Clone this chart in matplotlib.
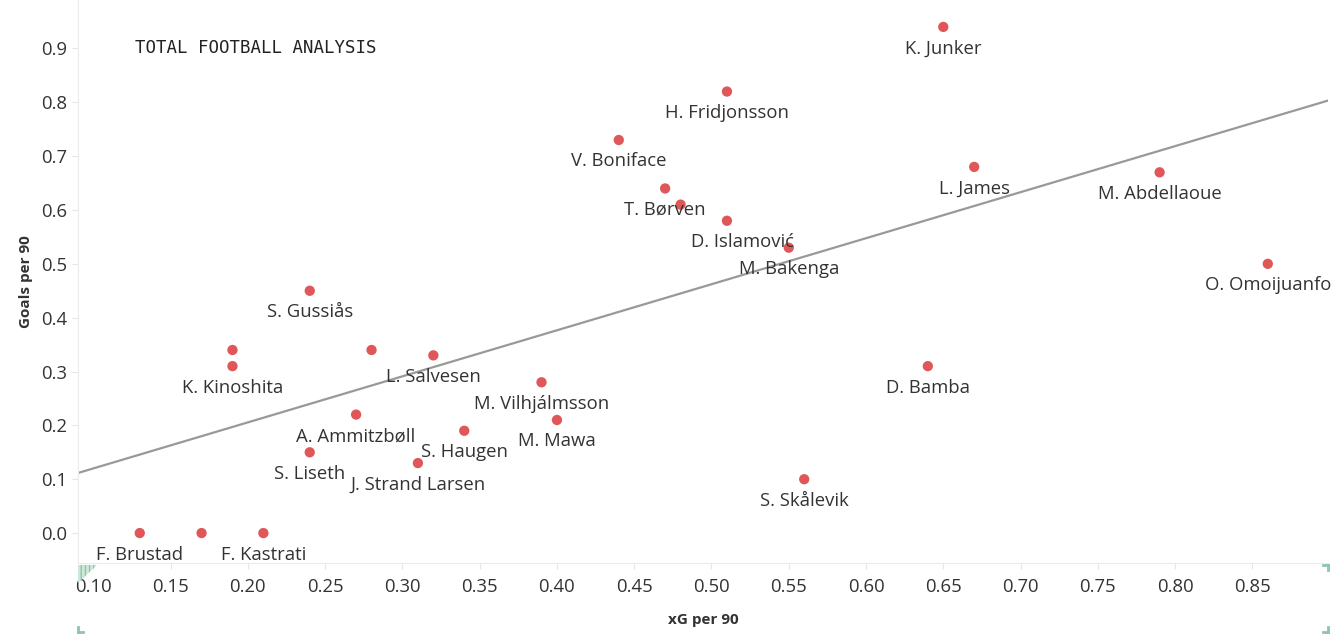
import numpy as np
import matplotlib.pyplot as plt
from matplotlib.patches import Polygon

# xG per 90 vs goals per 90 (Eliteserien strikers)
xg = [0.65, 0.51, 0.44, 0.47, 0.48, 0.51, 0.55, 0.67, 0.79, 0.86,
      0.24, 0.19, 0.19, 0.28, 0.32, 0.39, 0.27, 0.34, 0.40, 0.24,
      0.31, 0.56, 0.64, 0.13, 0.17, 0.21]
goals = [0.94, 0.82, 0.73, 0.64, 0.61, 0.58, 0.53, 0.68, 0.67, 0.50,
         0.45, 0.34, 0.31, 0.34, 0.33, 0.28, 0.22, 0.19, 0.21, 0.15,
         0.13, 0.10, 0.31, 0.00, 0.00, 0.00]
names = ['K. Junker', 'H. Fridjonsson', 'V. Boniface', 'T. Børven', '',
         'D. Islamović', 'M. Bakenga', 'L. James', 'M. Abdellaoue', 'O. Omoijuanfo',
         'S. Gussiås', '', 'K. Kinoshita', '', 'L. Salvesen',
         'M. Vilhjálmsson', 'A. Ammitzbøll', 'S. Haugen', 'M. Mawa', 'S. Liseth',
         'J. Strand Larsen', 'S. Skålevik', 'D. Bamba', 'F. Brustad', '', 'F. Kastrati']
# horizontal label nudges (points) where the label is not centred on its dot
label_dx = {'D. Islamović': 11}

# linear trend line
trend_intercept = 0.0346
trend_slope = 0.855

xticks = [0.10, 0.15, 0.20, 0.25, 0.30, 0.35, 0.40, 0.45, 0.50, 0.55,
          0.60, 0.65, 0.70, 0.75, 0.80, 0.85]
yticks = [0.0, 0.1, 0.2, 0.3, 0.4, 0.5, 0.6, 0.7, 0.8, 0.9]

plt.rcParams['font.family'] = ['Open Sans', 'DejaVu Sans']

fig = plt.figure(figsize=(13.37, 6.35), dpi=100)
ax = fig.add_axes([0.0583, 0.1139, 0.935, 0.8861])

xlim = (0.09, 0.899)
ylim = (-0.055, 0.99)
ax.set_xlim(xlim)
ax.set_ylim(ylim)

tx = np.array(xlim)
ax.plot(tx, trend_intercept + trend_slope * tx, color='#999999', linewidth=1.6, zorder=2)

ax.scatter(xg, goals, s=55, color='#e05759', edgecolors='none', zorder=3)

for x, y, n in zip(xg, goals, names):
    if not n:
        continue
    ax.annotate(n, (x, y), xytext=(label_dx.get(n, 0), -9), textcoords='offset points',
                ha='center', va='top', fontsize=13.3, color='#333333', zorder=4)

ax.set_xticks(xticks)
ax.set_xticklabels([f'{t:.2f}' for t in xticks])
ax.set_yticks(yticks)
ax.set_yticklabels([f'{t:.1f}' for t in yticks])
ax.tick_params(axis='both', colors='#e6e6e6', labelcolor='#333333', labelsize=13.3, length=4)
ax.tick_params(axis='x', pad=7)

for side in ['top', 'right']:
    ax.spines[side].set_visible(False)
for side in ['left', 'bottom']:
    ax.spines[side].set_color('#ececec')

ax.set_xlabel('xG per 90', fontsize=11, fontweight='bold', color='#333333', labelpad=12)
ax.set_ylabel('Goals per 90', fontsize=11, fontweight='bold', color='#333333', labelpad=6)

# logo text
fig.text(0.101, 0.925, 'TOTAL FOOTBALL ANALYSIS', fontsize=12.5, color='#222222',
         family='DejaVu Sans Mono', va='center', ha='left')

# little green selection markers in the corners
green = '#8cc7a8'
W, H = 1337, 635
tri = Polygon([(78 / W, 1 - 565 / H), (97 / W, 1 - 565 / H), (78 / W, 1 - 583 / H)],
              closed=True, transform=fig.transFigure, facecolor='#cfe8da',
              edgecolor=green, hatch='||||', linewidth=0)
fig.patches.append(tri)
for (cx, cy, dx, dy) in [(78, 632, 1, -1), (1328, 632, -1, -1), (1328, 565, -1, 1)]:
    fig.add_artist(plt.Line2D([cx / W, (cx + 5 * dx) / W], [1 - cy / H, 1 - cy / H],
                              transform=fig.transFigure, color=green, linewidth=2))
    fig.add_artist(plt.Line2D([cx / W, cx / W], [1 - cy / H, 1 - (cy + 5 * dy) / H],
                              transform=fig.transFigure, color=green, linewidth=2))

fig.savefig('out.png', dpi=100)
